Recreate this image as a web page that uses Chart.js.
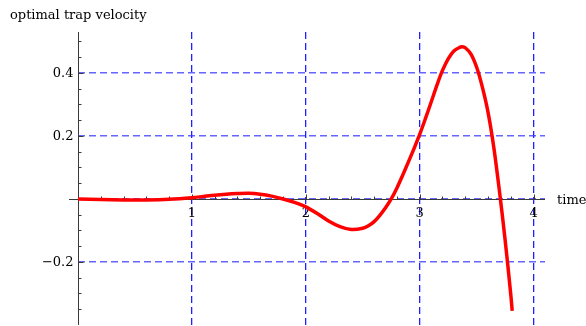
<!DOCTYPE html>
<html>
<head>
<meta charset="utf-8">
<script src="https://cdn.jsdelivr.net/npm/chart.js@4/dist/chart.umd.min.js"></script>
<style>
  html, body { margin: 0; padding: 0; background: #ffffff; }
  #wrap { position: relative; width: 586px; height: 326px; }
</style>
</head>
<body>
<div id="wrap"><canvas id="c" width="586" height="326"></canvas></div>
<script>
// Optimal trap velocity over time
const times = [0, 0.2, 0.4, 0.6, 0.8, 1.0, 1.1, 1.2, 1.3, 1.4, 1.5, 1.6, 1.7, 1.8, 1.9, 2.0, 2.1, 2.2, 2.3, 2.4, 2.5, 2.55, 2.6, 2.65, 2.7, 2.75, 2.8, 2.85, 2.9, 2.95, 3.0, 3.05, 3.1, 3.15, 3.2, 3.25, 3.3, 3.35, 3.374, 3.4, 3.45, 3.5, 3.55, 3.6, 3.65, 3.7, 3.75, 3.8, 3.812];
const velocity = [0, -0.002, -0.003, -0.003, -0.001, 0.004, 0.008, 0.012, 0.015, 0.017, 0.018, 0.015, 0.009, 0.0, -0.011, -0.025, -0.046, -0.07, -0.088, -0.097, -0.093, -0.085, -0.072, -0.052, -0.028, 0.0, 0.035, 0.075, 0.117, 0.16, 0.205, 0.255, 0.307, 0.36, 0.408, 0.445, 0.47, 0.481, 0.483, 0.48, 0.46, 0.418, 0.355, 0.275, 0.165, 0.025, -0.13, -0.305, -0.355];

// Axis ranges, grid lines and labels
const xRange = [0, 4.1];
const yRange = [-0.4, 0.53];
const xGrid = [1, 2, 3, 4];
const yGrid = [-0.2, 0, 0.2, 0.4];
const xTickValues = [1, 2, 3, 4];
const xTickLabels = ['1', '2', '3', '4'];
const yTickValues = [-0.2, 0.2, 0.4];
const yTickLabels = ['\u22120.2', '0.2', '0.4'];
const xMinorStep = 0.2;
const yMinorStep = 0.05;
const xTitle = 'time';
const yTitle = 'optimal trap velocity';

const FONT = '"DejaVu Serif", "Liberation Serif", serif';
const AXIS_COLOR = '#3a3a3a';

// Axes through the origin, with tick marks, labels and titles
const originAxes = {
  id: 'originAxes',
  beforeDatasetsDraw(chart) {
    const { ctx, chartArea: a, scales: { x, y } } = chart;
    const x0 = Math.round(x.getPixelForValue(0)) + 0.5;
    const y0 = Math.round(y.getPixelForValue(0)) + 0.5;
    ctx.save();
    ctx.strokeStyle = AXIS_COLOR;
    ctx.lineWidth = 1;
    ctx.setLineDash([]);
    ctx.beginPath();
    ctx.moveTo(a.left - 9, y0);
    ctx.lineTo(a.right, y0);
    ctx.moveTo(x0, a.top);
    ctx.lineTo(x0, a.bottom);
    // x tick marks (upward)
    const nx = Math.round(xTickValues[xTickValues.length - 1] / xMinorStep);
    for (let i = 1; i <= nx; i++) {
      const v = i * xMinorStep;
      const px = Math.round(x.getPixelForValue(v)) + 0.5;
      const major = Math.abs(v - Math.round(v)) < 1e-6;
      ctx.moveTo(px, y0);
      ctx.lineTo(px, y0 - (major ? 5 : 3));
    }
    // y tick marks (rightward)
    const iy0 = Math.ceil(yRange[0] / yMinorStep + 1e-6);
    const iy1 = Math.floor(yRange[1] / yMinorStep);
    for (let i = iy0; i <= iy1; i++) {
      if (i === 0) continue;
      const v = i * yMinorStep;
      const py = Math.round(y.getPixelForValue(v)) + 0.5;
      const major = i % 4 === 0;
      ctx.moveTo(x0, py);
      ctx.lineTo(x0 + (major ? 5 : 3), py);
    }
    ctx.stroke();

    ctx.fillStyle = '#000000';
    ctx.font = '13px ' + FONT;
    ctx.textAlign = 'center';
    ctx.textBaseline = 'top';
    xTickValues.forEach((v, i) => {
      ctx.fillText(xTickLabels[i], x.getPixelForValue(v), y0 + 8);
    });
    ctx.textAlign = 'right';
    ctx.textBaseline = 'middle';
    yTickValues.forEach((v, i) => {
      ctx.fillText(yTickLabels[i], x0 - 5, y.getPixelForValue(v) + 1);
    });
    ctx.textAlign = 'left';
    ctx.textBaseline = 'middle';
    ctx.fillText(xTitle, a.right + 12, y0 + 1);
    ctx.textBaseline = 'alphabetic';
    ctx.fillText(yTitle, 10, 19);
    ctx.restore();
  }
};

new Chart(document.getElementById('c'), {
  type: 'line',
  data: {
    datasets: [{
      data: times.map((t, i) => ({ x: t, y: velocity[i] })),
      borderColor: '#ff0000',
      borderWidth: 3.5,
      pointRadius: 0,
      fill: false,
      tension: 0.3
    }]
  },
  options: {
    responsive: false,
    devicePixelRatio: 1,
    animation: false,
    layout: { autoPadding: false, padding: { left: 78, right: 41, top: 32, bottom: 1 } },
    plugins: { legend: { display: false }, tooltip: { enabled: false }, title: { display: false } },
    scales: {
      x: {
        type: 'linear',
        min: xRange[0],
        max: xRange[1],
        afterBuildTicks: s => { s.ticks = xGrid.map(v => ({ value: v })); },
        ticks: { display: false },
        grid: { color: 'rgba(20,20,255,0.95)', lineWidth: 1.3, drawTicks: false },
        border: { display: false, dash: [7, 4] }
      },
      y: {
        type: 'linear',
        min: yRange[0],
        max: yRange[1],
        afterBuildTicks: s => { s.ticks = yGrid.map(v => ({ value: v })); },
        ticks: { display: false },
        grid: { color: 'rgba(50,50,255,0.75)', lineWidth: 1.4, drawTicks: false },
        border: { display: false, dash: [7, 4] }
      }
    }
  },
  plugins: [originAxes]
});
</script>
</body>
</html>
